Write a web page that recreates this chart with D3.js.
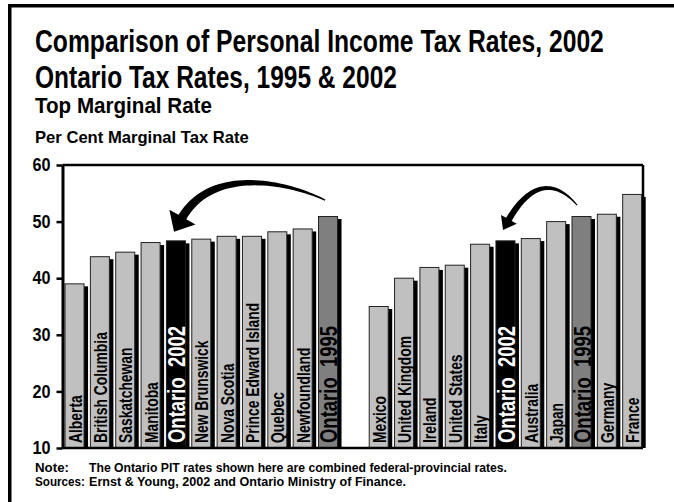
<!DOCTYPE html>
<html>
<head>
<meta charset="utf-8">
<script src="https://cdn.jsdelivr.net/npm/d3@7"></script>
<style>
  html, body { margin: 0; padding: 0; background: #fff; }
  svg { display: block; }
  text { font-family: 'Liberation Sans Narrow', 'Arial Narrow', 'Liberation Sans', sans-serif; font-weight: bold; }
</style>
</head>
<body>
<svg id="chart" width="674" height="502"></svg>
<script>
// ---- data ----
const provinces = ["Alberta", "British Columbia", "Saskatchewan", "Manitoba", "Ontario 2002",
  "New Brunswick", "Nova Scotia", "Prince Edward Island", "Quebec", "Newfoundland", "Ontario 1995"];
const provinceRates = [39.0, 43.8, 44.6, 46.3, 46.6, 46.9, 47.4, 47.4, 48.2, 48.7, 50.9];

const countries = ["Mexico", "United Kingdom", "Ireland", "United States", "Italy", "Ontario 2002",
  "Australia", "Japan", "Ontario 1995", "Germany", "France"];
const countryRates = [35.0, 40.0, 41.9, 42.3, 46.0, 46.6, 47.0, 50.0, 50.9, 51.3, 54.8];

const yTicks = [10, 20, 30, 40, 50, 60];

const titleLines = ["Comparison of Personal Income Tax Rates, 2002", "Ontario Tax Rates, 1995 & 2002"];
const subtitle = "Top Marginal Rate";
const axisTitle = "Per Cent Marginal Tax Rate";
const noteLabels = ["Note:", "Sources:"];
const noteTexts = ["The Ontario PIT rates shown here are combined federal-provincial rates.",
  "Ernst & Young, 2002 and Ontario Ministry of Finance."];

// ---- helpers ----
// place a text at (x, y) and squeeze it horizontally so that it spans the given width
function placeSqueezed(parent, str, px, py, size, width) {
  const t = parent.append("text").attr("font-size", size).text(str);
  const natural = t.node().getComputedTextLength();
  t.attr("transform", `translate(${px},${py}) scale(${width / natural},1)`);
  return t;
}
// squeeze texts by a factor of their natural width (keeps the anchor point)
function squeezeBy(sel, factor) {
  sel.each(function () {
    const L = this.getComputedTextLength();
    d3.select(this).attr("textLength", L * factor).attr("lengthAdjust", "spacingAndGlyphs");
  });
}

// ---- layout ----
const svg = d3.select("#chart");
const plot = { left: 62.5, right: 643, top: 165, bottom: 448 };
const slotCount = provinces.length + 1 + countries.length;   // one empty slot between the groups

// one row per bar; the empty slot between the two groups has no row
const rows = [];
provinces.forEach((name, i) => rows.push({ slot: i, name, rate: provinceRates[i] }));
countries.forEach((name, i) => rows.push({ slot: provinces.length + 1 + i, name, rate: countryRates[i] }));

const x = d3.scaleBand().domain(d3.range(slotCount)).range([plot.left, 645.5]).padding(0);
const slotX = d3.scaleLinear().domain([0, slotCount]).range([plot.left, 645.5]);
const y = d3.scaleLinear().domain([10, 60]).range([plot.bottom, plot.top]);

const step = x.bandwidth();
const barW = step * 0.75;
const barOff = step * 0.1;

const kindOf = name => name === "Ontario 2002" ? "now" : (name === "Ontario 1995" ? "then" : "other");
const fillOf = { now: "#000000", then: "#7f7f7f", other: "#c0c0c0" };

// ---- outer frame ----
svg.append("rect").attr("x", 8).attr("y", 4).attr("width", 3.5).attr("height", 498).attr("fill", "#000");
svg.append("rect").attr("x", 8).attr("y", 4).attr("width", 666).attr("height", 3.5).attr("fill", "#000");

// ---- titles ----
placeSqueezed(svg, titleLines[0], 35, 52, 31, 569);
placeSqueezed(svg, titleLines[1], 35, 88, 31, 362);
placeSqueezed(svg, subtitle, 35, 113, 22, 177);
placeSqueezed(svg, axisTitle, 35, 143, 16, 214);

// ---- bars ----
const bars = svg.append("g");
// drop shadows
bars.selectAll("rect.shadow").data(rows).join("rect")
  .attr("class", "shadow")
  .attr("x", d => x(d.slot) + barOff + 4)
  .attr("y", d => y(d.rate) + 2.5)
  .attr("width", barW)
  .attr("height", d => plot.bottom - y(d.rate) - 2.5)
  .attr("fill", "#000");
// bars
bars.selectAll("rect.bar").data(rows).join("rect")
  .attr("class", "bar")
  .attr("x", d => x(d.slot) + barOff)
  .attr("y", d => y(d.rate))
  .attr("width", barW)
  .attr("height", d => plot.bottom - y(d.rate))
  .attr("fill", d => fillOf[kindOf(d.name)])
  .attr("stroke", "#222")
  .attr("stroke-width", 1);

// vertical labels inside the bars
const labels = bars.selectAll("text.lbl").data(rows).join("text")
  .attr("class", "lbl")
  .attr("transform", d => `translate(${x(d.slot) + barOff + barW / 2 + 0.5},${plot.bottom - 5}) rotate(-90)`)
  .attr("dy", "0.36em")
  .attr("font-size", d => kindOf(d.name) === "other" ? 18 : 24)
  .attr("fill", d => kindOf(d.name) === "now" ? "#fff" : "#000")
  .style("white-space", "pre")
  .text(d => kindOf(d.name) === "other" ? d.name : d.name.replace(" ", "  "));
labels.call(squeezeBy, 0.77);

// ---- plot frame ----
const frame = svg.append("g").attr("stroke", "#000").attr("stroke-width", 2.5).attr("fill", "none");
frame.append("line").attr("x1", plot.left).attr("x2", plot.right).attr("y1", plot.top).attr("y2", plot.top);
frame.append("line").attr("x1", plot.right).attr("x2", plot.right).attr("y1", plot.top).attr("y2", plot.bottom);
frame.append("line").attr("x1", plot.left).attr("x2", plot.right).attr("y1", plot.bottom).attr("y2", plot.bottom);

// ---- y axis ----
const yAxis = svg.append("g")
  .attr("transform", `translate(${plot.left},0)`)
  .call(d3.axisLeft(y).tickValues(yTicks).tickSize(6).tickSizeOuter(0).tickPadding(6));
yAxis.select(".domain").attr("stroke", "#000").attr("stroke-width", 3);
yAxis.selectAll(".tick line").attr("stroke", "#000").attr("stroke-width", 2.5);
yAxis.selectAll(".tick text")
  .attr("fill", "#000")
  .attr("font-size", 18)
  .attr("font-family", null)
  .call(squeezeBy, 0.9);

// ---- arrows from Ontario 1995 to Ontario 2002 (slot position, rate) ----
const arrows = [
  { tail: [10.36, 53.8], c1: [8.88, 57.0], c2: [5.92, 59.8], base: [4.73, 50.8], tip: [4.40, 48.2],
    w0: 1.2, w1: 9, head: 15 },
  { tail: [20.30, 52.9], c1: [19.62, 56.5], c2: [18.63, 58.2], base: [17.61, 50.4], tip: [17.38, 48.5],
    w0: 1.0, w1: 6.5, head: 9 }
];

function arrowPath(a) {
  const P = k => [slotX(a[k][0]), y(a[k][1])];
  const p0 = P("tail"), p1 = P("c1"), p2 = P("c2"), p3 = P("base"), tip = P("tip");
  const n = 40, left = [], right = [];
  for (let i = 0; i <= n; i++) {
    const t = i / n, u = 1 - t;
    const px = u*u*u*p0[0] + 3*u*u*t*p1[0] + 3*u*t*t*p2[0] + t*t*t*p3[0];
    const py = u*u*u*p0[1] + 3*u*u*t*p1[1] + 3*u*t*t*p2[1] + t*t*t*p3[1];
    const dx = 3*u*u*(p1[0]-p0[0]) + 6*u*t*(p2[0]-p1[0]) + 3*t*t*(p3[0]-p2[0]);
    const dy = 3*u*u*(p1[1]-p0[1]) + 6*u*t*(p2[1]-p1[1]) + 3*t*t*(p3[1]-p2[1]);
    const len = Math.hypot(dx, dy) || 1;
    const nx = -dy / len, ny = dx / len;
    const w = (a.w0 + (a.w1 - a.w0) * Math.pow(t, 0.9)) / 2;
    left.push([px + nx * w, py + ny * w]);
    right.push([px - nx * w, py - ny * w]);
  }
  const dl = Math.hypot(tip[0] - p3[0], tip[1] - p3[1]);
  const ux = (tip[0] - p3[0]) / dl, uy = (tip[1] - p3[1]) / dl;
  const wx = -uy * a.head, wy = ux * a.head;
  const pts = left.concat([[p3[0] + wx, p3[1] + wy], tip, [p3[0] - wx, p3[1] - wy]], right.reverse());
  return "M" + pts.map(p => p[0].toFixed(2) + "," + p[1].toFixed(2)).join("L") + "Z";
}

svg.append("g").selectAll("path").data(arrows).join("path")
  .attr("d", arrowPath)
  .attr("fill", "#000");

// ---- footnotes ----
const foot = svg.append("g");
const noteLabelWidths = [34, 50];
const noteTextWidths = [418, 317];
noteLabels.forEach((lab, i) => {
  placeSqueezed(foot, lab, 35, 472 + i * 14, 13.5, noteLabelWidths[i]);
  placeSqueezed(foot, noteTexts[i], 89, 472 + i * 14, 13.5, noteTextWidths[i]);
});
</script>
</body>
</html>
